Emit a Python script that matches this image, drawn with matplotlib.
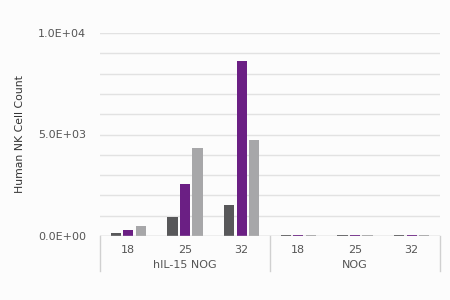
import matplotlib.pyplot as plt
import numpy as np
from matplotlib.ticker import FuncFormatter

# data
groups = ["hIL-15 NOG", "NOG"]
days = ["18", "25", "32"]
series_dark = [160, 950, 1510, 40, 40, 40]
series_purple = [280, 2540, 8620, 40, 40, 40]
series_light = [490, 4350, 4730, 30, 30, 30]

colors = ["#58585a", "#6b1f84", "#a7a7a9"]
txt = "#555555"

plt.rcParams['font.family'] = ['DejaVu Sans']

fig = plt.figure(figsize=(4.5, 3), dpi=100)
fig.patch.set_facecolor('#fcfcfc')
ax = fig.add_axes([100 / 450, 1 - 236 / 300, 340 / 450, 203 / 300])
ax.set_facecolor('#fcfcfc')

x = np.arange(len(days) * len(groups))
w = 0.18
step = 0.22
for i, (vals, c) in enumerate(zip([series_dark, series_purple, series_light], colors)):
    ax.bar(x + (i - 1) * step, vals, width=w, color=c, zorder=3)

ax.set_xlim(-0.5, len(x) - 0.5)
ax.set_ylim(0, 10000)
ax.set_yticks(np.arange(0, 10001, 1000))
ax.yaxis.set_major_formatter(FuncFormatter(
    lambda v, p: "%.1E" % v if v % 5000 == 0 else ""))
ax.grid(axis='y', color='#e2e2e2', lw=1, zorder=0)
ax.tick_params(axis='y', length=0, labelsize=8, labelcolor=txt, pad=10)
ax.tick_params(axis='x', length=0, labelbottom=False)
for s in ax.spines.values():
    s.set_visible(False)
ax.axhline(0, color='#d0d0d0', lw=1, zorder=4)

ax.set_ylabel("Human NK Cell Count", fontsize=7.8, color='#333333', labelpad=9)

# two-level category axis
trans = ax.get_xaxis_transform()
for i, xi in enumerate(x):
    ax.text(xi, -0.07, days[i % 3], transform=trans, ha='center', va='center',
            fontsize=8, color=txt)
for g, name in enumerate(groups):
    ax.text(g * 3 + 1, -0.145, name, transform=trans, ha='center', va='center',
            fontsize=8, color=txt)
for xb in [-0.5, 2.5, 5.5]:
    ax.plot([xb, xb], [0, -0.17], transform=trans, color='#d0d0d0', lw=1,
            clip_on=False)

fig.savefig("out.png", dpi=100, facecolor=fig.get_facecolor())
